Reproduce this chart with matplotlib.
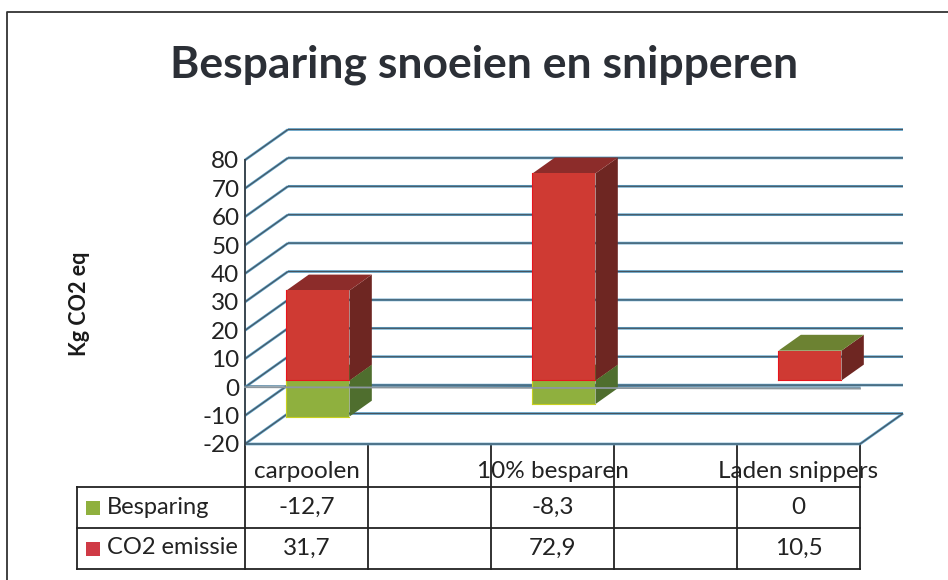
import matplotlib
matplotlib.use("Agg")
import matplotlib.pyplot as plt
from matplotlib.patches import Polygon, Rectangle

categories = ["carpoolen", "10% besparen", "Laden snippers"]
series_names = ["Besparing", "CO2 emissie"]
besparing = [-12.7, -8.3, 0]
co2_emissie = [31.7, 72.9, 10.5]
besparing_labels = ["-12,7", "-8,3", "0"]
co2_labels = ["31,7", "72,9", "10,5"]
y_ticks = [80, 70, 60, 50, 40, 30, 20, 10, 0, -10, -20]
title = "Besparing snoeien en snipperen"
y_label = "Kg CO2 eq"

W, H = 948, 580
plt.rcParams["font.family"] = ["Lato", "DejaVu Sans"]
fig = plt.figure(figsize=(W / 100, H / 100), dpi=100, facecolor="white")

# page-pixel overlay for frame and table
deco = fig.add_axes([0, 0, 1, 1], zorder=0)
deco.set_xlim(0, W)
deco.set_ylim(H, 0)
deco.axis("off")

# plot axes: front plane of the 3D box
L, R, T, B = 245, 860, 160, 444
ax = fig.add_axes([L / W, 1 - B / H, (R - L) / W, (B - T) / H], zorder=1)
ax.set_xlim(-0.25, 2.25)
ax.set_ylim(-20, 80)
ax.patch.set_alpha(0)
for s in ax.spines.values():
    s.set_visible(False)
ax.set_xticks([])
ax.set_yticks(y_ticks)
ax.set_yticklabels([str(v) for v in y_ticks], fontsize=17.5, color="#222222")
ax.tick_params(axis="y", length=0, pad=4)

px_x = 2.5 / (R - L)
px_y = 100 / (B - T)
DX, DY = 43 * px_x, 30.5 * px_y
xl, xr = -0.25, 2.25


def pr(x, y, d=0.0):
    return (x + d * DX, y + d * DY)


def grid_line(p, q, z=1):
    xs, ys = [p[0], q[0]], [p[1], q[1]]
    ax.plot(xs, ys, color="#5a9fc6", lw=1.9, zorder=z, clip_on=False,
            solid_capstyle="butt", snap=False)
    ax.plot(xs, ys, color="#47545e", lw=0.8, zorder=z + 0.1, clip_on=False,
            solid_capstyle="butt", snap=False)


for v in y_ticks:
    grid_line(pr(xl, v, 1), pr(xr, v, 1))
    grid_line(pr(xl, v, 0), pr(xl, v, 1))
grid_line(pr(xl, -20, 0), pr(xr, -20, 0))
grid_line(pr(xr, -20, 0), pr(xr, -20, 1))
ax.plot([xl, xl], [-20, 80], color="#3a4650", lw=1.4, zorder=2, clip_on=False)

# bars
D0, D1 = 0.22, 0.74
BW = 63 * px_x
SHIFT = 2 * px_x
RED = ("#cf3a33", "#8c2c2a", "#6e2622", "#e8141c")
GREEN = ("#8fb03e", "#6c8232", "#4f6e2e", "#c8d020")


def box(x, lo, hi, cols, top=None, z=3):
    a, b = x - BW / 2 + SHIFT, x + BW / 2 + SHIFT
    side = [pr(b, lo, D0), pr(b, hi, D0), pr(b, hi, D1), pr(b, lo, D1)]
    roof = [pr(a, hi, D0), pr(b, hi, D0), pr(b, hi, D1), pr(a, hi, D1)]
    ax.add_patch(Polygon(side, fc=cols[2], ec="none", zorder=z, clip_on=False))
    ax.add_patch(Polygon(roof, fc=top or cols[1], ec="none", zorder=z, clip_on=False))
    f0, f1 = pr(a, lo, D0), pr(b, hi, D0)
    ax.add_patch(Rectangle(f0, f1[0] - f0[0], f1[1] - f0[1], fc=cols[0], ec="none",
                           zorder=z + 0.2, clip_on=False))
    ax.plot([f0[0], f0[0]], [f0[1], f1[1]], color=cols[3], lw=0.8, zorder=z + 0.3, clip_on=False)
    ax.plot([f0[0], f1[0]], [f0[1], f0[1]], color=cols[3], lw=0.8, zorder=z + 0.3, clip_on=False)


for i, (neg, pos) in enumerate(zip(besparing, co2_emissie)):
    if neg < 0:
        box(i, neg, 0, GREEN, z=3)
    box(i, 0, pos, RED, top=GREEN[1] if neg == 0 else None, z=4)

# zero line on the front plane, over the bars
ax.plot([xl, xr], [0, -0.5], color="#8c979e", lw=1.3, zorder=6, clip_on=False)
ax.plot([xl, xr], [0.5, 0.0], color="#4d7f9e", lw=0.8, zorder=2.5, clip_on=False)

# frame: top and left edges of the scanned box
FRAME = dict(color="#333333", lw=1.3)
deco.plot([7, 7, W], [H, 11.5, 11.5], **FRAME)

# title and axis label
deco.text(484, 65, title, fontsize=32, fontweight="bold", ha="center", va="center", color="#2b2f36")
deco.text(80, 304, y_label, fontsize=15.5, fontweight="bold", rotation=90,
          ha="center", va="center", color="#1a1a1a")

# data table
TL = dict(color="#222222", lw=1.3, solid_capstyle="projecting")
rows = [487, 528, 569]
cols_x = [245, 368, 491, 614, 737, 860]
for y in rows:
    deco.plot([77, 860], [y, y], **TL)
deco.plot([77, 77], [487, 569], **TL)
for x in cols_x:
    deco.plot([x, x], [444, 569], zorder=7, **TL)

centres = [L + (R - L) * (i + 0.25) / 2.5 for i in range(3)]
fs = 17
for c, name in zip(centres, categories):
    deco.text(c, 472, name, fontsize=17.5, ha="center", va="center", color="#222222", zorder=8)
for c, a, b in zip(centres, besparing_labels, co2_labels):
    deco.text(c, 507, a, fontsize=17.5, ha="center", va="center", color="#222222")
    deco.text(c, 548, b, fontsize=17.5, ha="center", va="center", color="#222222")
for y, name, col in zip([507.5, 548.5], series_names, ["#8fb03e", "#cf3a45"]):
    deco.add_patch(Rectangle((86.5, y - 7), 14, 14, fc=col, ec="none"))
    deco.text(107, y - 0.5, name, fontsize=fs, ha="left", va="center", color="#222222")

fig.savefig("out.png", dpi=100)
